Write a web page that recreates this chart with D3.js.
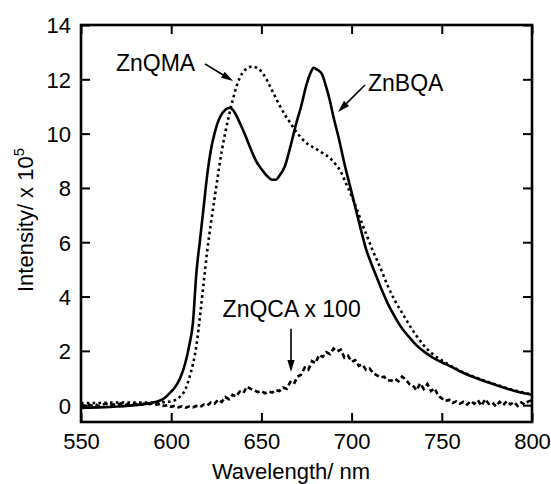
<!DOCTYPE html>
<html>
<head>
<meta charset="utf-8">
<script src="https://cdn.jsdelivr.net/npm/d3@7"></script>
<style>
  html, body { margin: 0; padding: 0; background: #fff; }
  svg { display: block; }
  text { font-family: "Liberation Sans", Arial, Helvetica, sans-serif; fill: #000; }
</style>
</head>
<body>
<svg id="chart" width="551" height="484"></svg>
<script>
// ---- Data ----
const xTicks = [550, 600, 650, 700, 750, 800];
const yTicks = [0, 2, 4, 6, 8, 10, 12, 14];

// ZnBQA (solid)
const bqaX = [550,560,570,580,590,595,600,602,605,608,610,612,614,616,618,620,622,624,627,630,632.5,635,638,641,644,647,650,653,656,658,660,663,666,669,672,675,677,679,681,683.5,686,688,690,693,696,699,702,705,708,711,714,717,720,724,728,732,736,740,745,750,755,760,765,770,775,780,785,790,795,800];
const bqaY = [-0.1,-0.08,-0.05,0.0,0.1,0.2,0.5,0.65,1.0,1.6,2.2,3.0,4.9,6.1,7.3,8.5,9.4,10.0,10.6,10.88,10.95,10.8,10.4,9.95,9.45,9.0,8.7,8.45,8.3,8.3,8.45,8.8,9.5,10.3,11.0,11.8,12.2,12.42,12.35,12.2,11.7,11.2,10.6,9.8,8.9,8.1,7.3,6.5,5.75,5.2,4.7,4.2,3.75,3.25,2.82,2.5,2.2,1.98,1.75,1.58,1.42,1.25,1.1,0.97,0.85,0.74,0.63,0.53,0.45,0.38];

// ZnQMA (dotted)
const qmaX = [550,560,570,580,590,598,602,605,608,610,612,614,616,618,620,622,624,626,628,630,632,634,636,638,641,645,648,651,654,657,660,663,666,669,672,676,680,684,688,691,694,697,700,703,706,709,712,716,720,724,728,732,736,740,745,750,755,760,765,770,775,780,785,790,795,800];
const qmaY = [0.08,0.08,0.1,0.1,0.1,0.12,0.18,0.32,0.6,1.0,1.5,2.2,3.3,4.5,5.7,6.7,7.6,8.5,9.35,10.05,10.65,11.2,11.7,12.05,12.35,12.47,12.4,12.2,11.85,11.45,11.05,10.7,10.4,10.1,9.85,9.6,9.45,9.28,9.1,8.88,8.6,8.15,7.7,7.2,6.65,6.15,5.65,5.05,4.4,3.85,3.4,2.95,2.55,2.2,1.88,1.65,1.45,1.27,1.12,0.99,0.87,0.76,0.65,0.55,0.47,0.4];

// ZnQCA x 100 (dashed, noisy), 2 nm steps from 550 to 800
const qcaStart = 550, qcaStep = 2;
const qcaY = [0.02,-0.03,0.04,-0.02,0.03,-0.04,0.02,0.05,-0.02,0.03,0.0,0.06,-0.01,0.04,0.08,0.02,0.07,0.03,0.09,0.04,0.07,0.02,0.05,-0.03,0.0,-0.06,-0.02,-0.08,-0.04,-0.09,-0.05,-0.08,-0.03,-0.07,0.02,-0.01,0.1,0.05,0.2,0.12,0.3,0.22,0.38,0.32,0.5,0.45,0.68,0.6,0.55,0.48,0.52,0.44,0.5,0.46,0.56,0.52,0.65,0.6,0.85,0.78,1.05,1.12,1.38,1.3,1.62,1.55,1.85,1.78,1.95,1.88,2.08,1.98,2.05,1.75,1.82,1.6,1.66,1.45,1.5,1.3,1.35,1.18,1.1,1.02,1.05,0.92,0.9,0.97,0.88,1.05,0.95,0.78,0.72,0.55,0.8,0.6,0.78,0.52,0.62,0.35,0.25,0.15,0.2,0.08,0.14,0.05,0.12,0.02,0.15,0.05,0.18,-0.02,0.22,0.05,0.1,-0.05,0.12,0.0,0.15,0.03,0.12,-0.03,0.1,0.02,0.14,0.18];

// Annotations (data coordinates)
const annLabels = ["ZnQMA", "ZnBQA", "ZnQCA x 100"];
const annTextPos = [[569.4, 12.31], [709.1, 11.57], [628.5, 3.25]];
const annArrowFrom = [[618.7, 12.57], [707.4, 11.79], [666.4, 2.81]];
const annArrowTo = [[634.3, 11.94], [692.5, 10.8], [666.4, 1.22]];

// ---- Chart ----
const svg = d3.select("#chart");
const mLeft = 81, mRight = 532, mTop = 25, mBottom = 422;

const x = d3.scaleLinear().domain([550, 800]).range([mLeft, mRight]);
const y = d3.scaleLinear().domain([-0.62, 14]).range([mBottom, mTop]);

svg.append("defs").append("clipPath").attr("id", "clip")
  .append("rect").attr("x", mLeft).attr("y", mTop)
  .attr("width", mRight - mLeft).attr("height", mBottom - mTop);

const plot = svg.append("g").attr("clip-path", "url(#clip)");

const line = d3.line().x(d => x(d[0])).y(d => y(d[1])).curve(d3.curveMonotoneX);
const lineLin = d3.line().x(d => x(d[0])).y(d => y(d[1]));

const bqa = bqaX.map((v, i) => [v, bqaY[i]]);
const qma = qmaX.map((v, i) => [v, qmaY[i]]);
const qca = qcaY.map((v, i) => [qcaStart + i * qcaStep, v]);

plot.append("path").attr("d", lineLin(qca))
  .attr("fill", "none").attr("stroke", "#000").attr("stroke-width", 2.6)
  .attr("stroke-dasharray", "5,3");
plot.append("path").attr("d", line(qma))
  .attr("fill", "none").attr("stroke", "#000").attr("stroke-width", 2.6)
  .attr("stroke-dasharray", "2.6,3.2");
plot.append("path").attr("d", line(bqa))
  .attr("fill", "none").attr("stroke", "#000").attr("stroke-width", 2.6)
  .attr("stroke-linejoin", "round");

// Axes (ticks inward, mirrored)
const tickLen = 9;
const axB = svg.append("g").attr("transform", `translate(0,${mBottom})`)
  .call(d3.axisBottom(x).tickValues(xTicks).tickSizeInner(-tickLen).tickSizeOuter(0).tickPadding(11).tickFormat(d3.format("d")));
const axT = svg.append("g").attr("transform", `translate(0,${mTop})`)
  .call(d3.axisTop(x).tickValues(xTicks).tickSizeInner(-tickLen).tickSizeOuter(0).tickFormat(""));
const axL = svg.append("g").attr("transform", `translate(${mLeft},0)`)
  .call(d3.axisLeft(y).tickValues(yTicks).tickSizeInner(-tickLen).tickSizeOuter(0).tickPadding(10).tickFormat(d3.format("d")));
const axR = svg.append("g").attr("transform", `translate(${mRight},0)`)
  .call(d3.axisRight(y).tickValues(yTicks).tickSizeInner(-tickLen).tickSizeOuter(0).tickFormat(""));

[axB, axT, axL, axR].forEach(g => {
  g.select(".domain").remove();
  g.selectAll(".tick line").attr("stroke", "#000").attr("stroke-width", 2);
  g.selectAll("text").style("font-size", "22px").attr("fill", "#000")
    .style("font-family", '"Liberation Sans", Arial, Helvetica, sans-serif');
});
axB.selectAll("text").attr("dy", "0.71em");
axL.selectAll("text").attr("dy", "0.36em");

// Frame
svg.append("rect").attr("x", mLeft).attr("y", mTop)
  .attr("width", mRight - mLeft).attr("height", mBottom - mTop)
  .attr("fill", "none").attr("stroke", "#000").attr("stroke-width", 2.6);

// Axis titles
svg.append("text").attr("x", 291).attr("y", 479).attr("text-anchor", "middle")
  .style("font-size", "22px").text("Wavelength/ nm");

const yl = svg.append("text").attr("transform", "translate(33,220) rotate(-90)")
  .attr("text-anchor", "middle").style("font-size", "22px");
yl.append("tspan").text("Intensity/ x 10");
yl.append("tspan").attr("dy", -9).style("font-size", "15px").text("5");

// Annotations
annLabels.forEach((t, i) => {
  svg.append("text").attr("x", x(annTextPos[i][0])).attr("y", y(annTextPos[i][1]))
    .style("font-size", "23px").text(t);
  const x1 = x(annArrowFrom[i][0]), y1 = y(annArrowFrom[i][1]);
  const x2 = x(annArrowTo[i][0]), y2 = y(annArrowTo[i][1]);
  const ang = Math.atan2(y2 - y1, x2 - x1);
  const hl = 12, hw = 3.6;
  const bx = x2 - hl * Math.cos(ang), by = y2 - hl * Math.sin(ang);
  svg.append("line").attr("x1", x1).attr("y1", y1).attr("x2", bx).attr("y2", by)
    .attr("stroke", "#000").attr("stroke-width", 1.6);
  const px = -Math.sin(ang), py = Math.cos(ang);
  svg.append("path")
    .attr("d", `M${x2},${y2}L${bx + px * hw},${by + py * hw}L${bx - px * hw},${by - py * hw}Z`)
    .attr("fill", "#000");
});
</script>
</body>
</html>
